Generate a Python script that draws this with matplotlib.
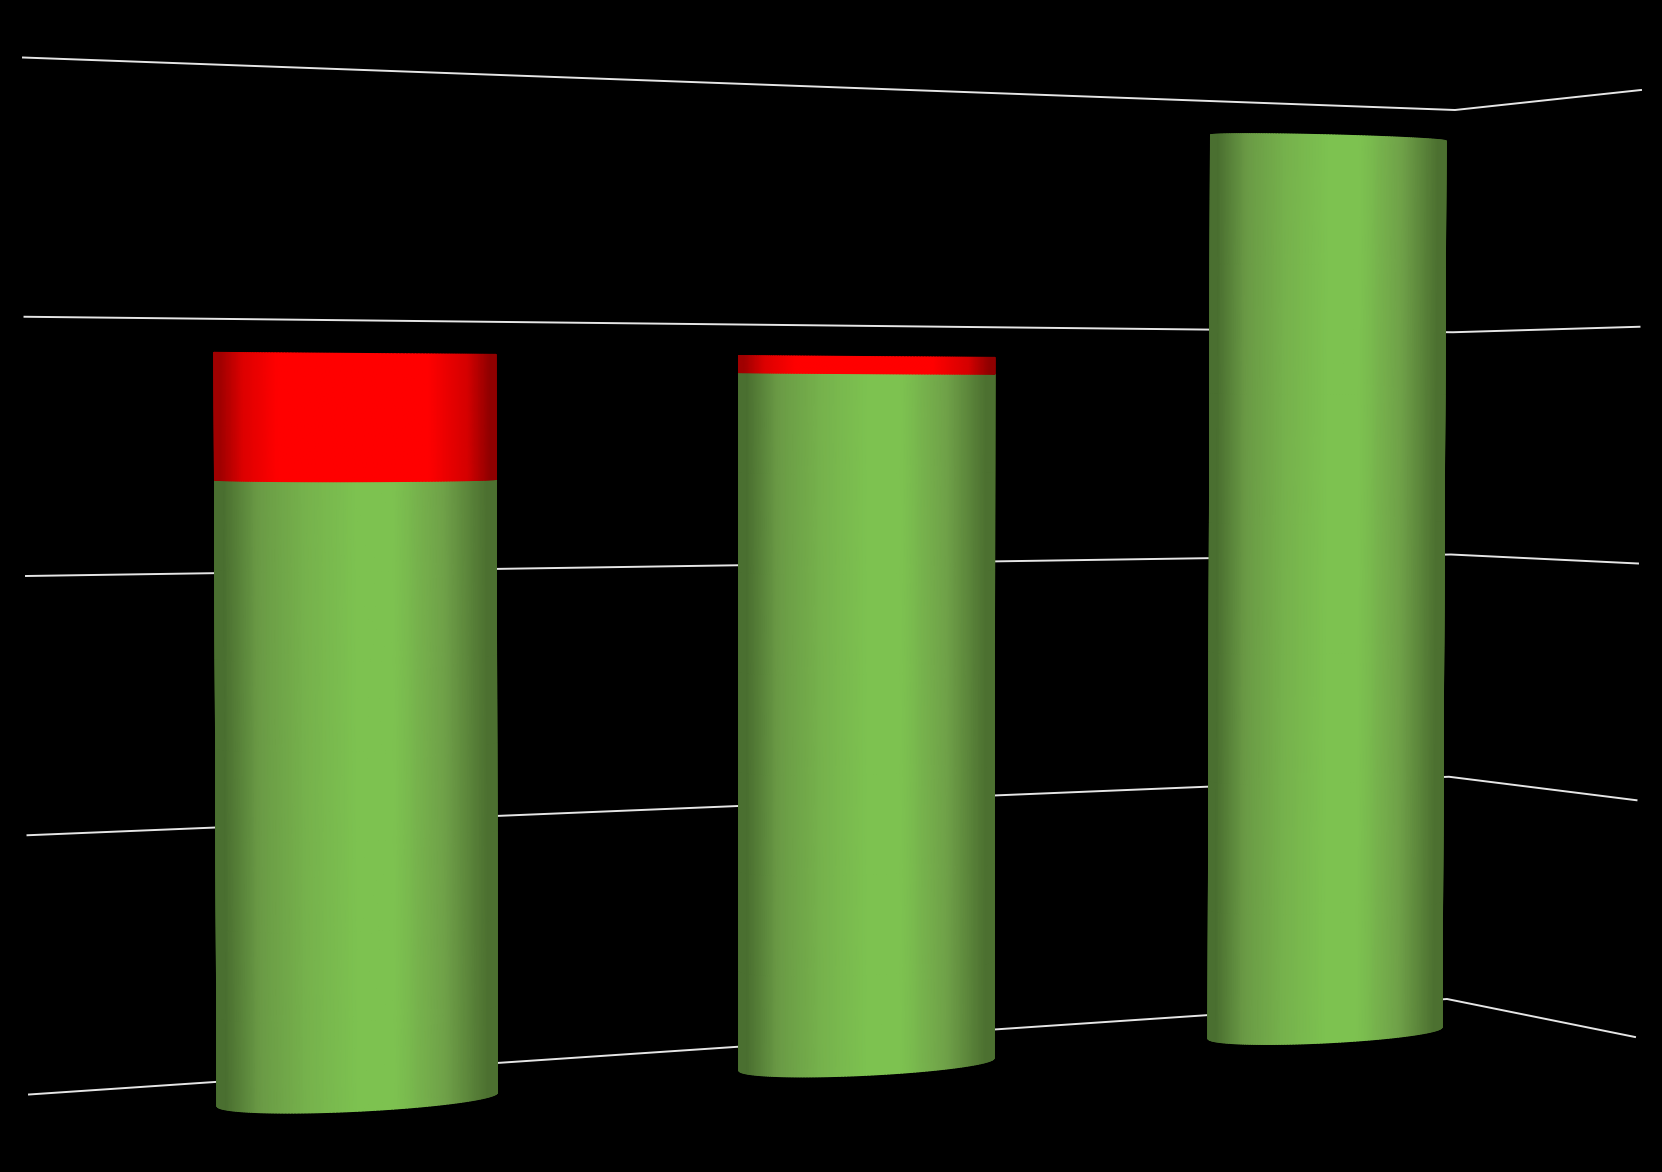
import numpy as np
import matplotlib
matplotlib.use('Agg')
import matplotlib.pyplot as plt
from matplotlib.colors import LinearSegmentedColormap

# Valores (as barras nao tem rotulos)
grid_levels = [0, 25, 50, 75, 100]
green_values = [62.8, 73.6, 99.9]
red_values = [12.8, 1.8, 0.0]

# Perspectiva: cantos em pixels (esq/dir) para nivel 0 e nivel 100
WALL_BACK = ((29, 1094.5), (1447, 999), (23, 57.5), (1455, 110))
WALL_SIDE = ((1447, 999), (1635, 1037), (1455, 110), (1641, 90))
BAR_PLANE = ((217, 1109), (1442, 1025), (213, 109), (1446, 140))

# Centro e meia largura de cada cilindro no plano das barras (0-1)
BAR_U = [0.1145, 0.5302, 0.9045]
BAR_HW = [0.1145, 0.1041, 0.0955]

BULGE = 0.085  # curvatura da base, relativa ao raio em pixels
BULGE_ZERO = 76.0  # nivel onde a borda do cilindro fica reta
TILT = 0.02  # cada base inclina menos que o plano geral


def project(plane, u, level):
    b0, b1, t0, t1 = [np.array(p, dtype=float) for p in plane]
    u = np.asarray(u, dtype=float)
    v = np.asarray(level, dtype=float) / 100.0
    bottom_x = b0[0] + (b1[0] - b0[0]) * u
    bottom_y = b0[1] + (b1[1] - b0[1]) * u
    top_x = t0[0] + (t1[0] - t0[0]) * u
    top_y = t0[1] + (t1[1] - t0[1]) * u
    return bottom_x + (top_x - bottom_x) * v, bottom_y + (top_y - bottom_y) * v


green_map = LinearSegmentedColormap.from_list('verde', [
    (0.0, '#4A6F30'), (0.03, '#4A6F30'), (0.15, '#6A9A45'), (0.32, '#76B24C'),
    (0.5, '#7DC250'), (0.64, '#7DC250'), (0.82, '#6FA048'), (0.97, '#4C7030'), (1.0, '#4C7030')])
red_map = LinearSegmentedColormap.from_list('verm', [
    (0.0, '#A00000'), (0.02, '#A00000'), (0.1, '#DD0000'), (0.22, '#FF0000'),
    (0.76, '#FF0000'), (0.9, '#D50000'), (0.98, '#900000'), (1.0, '#900000')])


def draw_segment(ax, u_c, hw, low, high, cmap):
    theta = np.linspace(0, np.pi, 121)
    u_col = u_c - hw * np.cos(theta)
    levels = np.linspace(low, high, 8)
    U, L = np.meshgrid(u_col, levels)
    X, Y = project(BAR_PLANE, U, L)
    # raio em pixels na linha da base, usado na curvatura
    x_left, _ = project(BAR_PLANE, u_c - hw, 0)
    x_right, _ = project(BAR_PLANE, u_c + hw, 0)
    radius = (x_right - x_left) / 2.0
    Y = Y + BULGE * radius * (1 - L / BULGE_ZERO) * np.sin(theta)
    Y = Y + TILT * radius * (-np.cos(theta)) * (1 - L / 100.0)
    shade = (U - (u_c - hw)) / (2 * hw)
    ax.pcolormesh(X, Y, shade, cmap=cmap, vmin=0, vmax=1, shading='gouraud', zorder=3)


fig = plt.figure(figsize=(16.62, 11.72), dpi=100, facecolor='black')
ax = fig.add_axes([0, 0, 1, 1], facecolor='black')
ax.set_xlim(0, 1662)
ax.set_ylim(1172, 0)
ax.axis('off')

# Linhas de grade nas duas paredes
for level in grid_levels:
    xa, ya = project(WALL_BACK, [0, 1], [level, level])
    xb, yb = project(WALL_SIDE, [0, 1], [level, level])
    ax.plot(np.r_[xa, xb[1]], np.r_[ya, yb[1]], color='#E6E6E6', lw=1.4, zorder=1,
            solid_joinstyle='round')

# Cilindros empilhados
for u_c, hw, g, r in zip(BAR_U, BAR_HW, green_values, red_values):
    draw_segment(ax, u_c, hw, 0, g, green_map)
    if r > 0:
        draw_segment(ax, u_c, hw, g, g + r, red_map)

fig.savefig('out.png', dpi=100, facecolor='black')
